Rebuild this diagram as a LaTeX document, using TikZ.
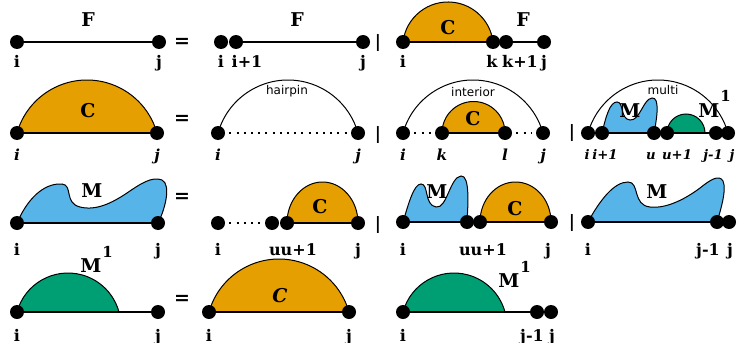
\documentclass[tikz,border=0pt]{standalone}
\usepackage{fontspec}
\setmainfont{DejaVu Serif}
\newfontfamily\tagfont{DejaVu Sans}
\usetikzlibrary{backgrounds}
\definecolor{corange}{HTML}{E69F00}
\definecolor{cblue}{HTML}{56B4E9}
\definecolor{cgreen}{HTML}{009E73}
\newcommand{\widearc}{arc[start angle=164.26, end angle=15.74, radius=36.36pt]}
\newcommand{\greenarc}{arc[start angle=164.8, end angle=15.2, radius=26.42pt]}
\newcommand{\Mone}{M\kern0.5pt\raisebox{7.5pt}{\fontsize{7.5}{8}\selectfont 1}}
\begin{document}
\begin{tikzpicture}[x=0.5pt, y=-0.5pt,
  dot/.style={circle, fill=black, inner sep=0pt, minimum size=7pt},
  base/.style={line width=0.7pt},
  rim/.style={line width=0.5pt},
  dots/.style={line width=1pt, dash pattern=on 1pt off 2.6pt, shorten <=2pt, shorten >=2pt},
  lbl/.style={font=\fontsize{8}{9}\selectfont\bfseries, anchor=base, inner sep=0pt},
  lbli/.style={lbl, font=\fontsize{7.6}{9}\selectfont\bfseries\itshape},
  lbls/.style={lbl, font=\fontsize{6.6}{8}\selectfont\bfseries\itshape},
  big/.style={font=\fontsize{9.5}{11}\selectfont\bfseries, anchor=base, inner sep=0pt},
  op/.style={font=\fontsize{9.5}{11}\selectfont\bfseries, inner sep=0pt},
  bar/.style={font=\fontsize{8.5}{9}\selectfont\bfseries, inner sep=0pt},
  tag/.style={font=\tagfont\fontsize{6}{7}\selectfont, anchor=base, inner sep=0pt}]
  \useasboundingbox (0,0) rectangle (737,342);

  \node[dot] (a1) at (17,42) {};
  \node[dot] (a2) at (159,42) {};
  \draw[base] (a1) -- (a2);
  \node[big] (aF) at (88,27) {F};
  \node[lbl] (a1l) at (17,68) {i};
  \node[lbl] (a2l) at (159,68) {j};

  \node[op] (eq1) at (182,43) {=};

  \node[dot] (b1) at (221,42) {};
  \node[dot] (b2) at (236,42) {};
  \node[dot] (b3) at (363,42) {};
  \draw[base] (b2) -- (b3);
  \node[big] (bF) at (297,27) {F};
  \node[lbl] (b1l) at (221,68) {i};
  \node[lbl] (b2l) at (247,68) {i+1};
  \node[lbl] (b3l) at (363,68) {j};

  \node[bar] (or1) at (378,43) {|};

  \node[dot] (c1) at (403,42) {};
  \node[dot] (c2) at (493,42) {};
  \node[dot] (c3) at (506,42) {};
  \node[dot] (c4) at (544,42) {};
  \begin{scope}[on background layer]
    \filldraw[rim, fill=corange] (c1.center) arc[start angle=173.27, end angle=6.73, radius=22.66pt] -- cycle;
  \end{scope}
  \draw[base] (c1) -- (c4);
  \node[big] (cC) at (448,35) {C};
  \node[big] (cF) at (523,27) {F};
  \node[lbl] (c1l) at (403,68) {i};
  \node[lbl] (c2l) at (492,68) {k};
  \node[lbl] (c3l) at (520,68) {k+1};
  \node[lbl] (c4l) at (544,68) {j};


  \node[dot] (d1) at (17,133) {};
  \node[dot] (d2) at (157,133) {};
  \begin{scope}[on background layer]
    \filldraw[rim, fill=corange] (d1.center) \widearc -- cycle;
  \end{scope}
  \draw[base] (d1) -- (d2);
  \node[big] (dC) at (88,117) {C};
  \node[lbli] (d1l) at (17,160) {i};
  \node[lbli] (d2l) at (157,160) {j};

  \node[op] (eq2) at (182,120) {=};

  \node[dot] (e1) at (218,133) {};
  \node[dot] (e2) at (358,133) {};
  \begin{scope}[on background layer]
    \draw[rim] (e1.center) \widearc;
  \end{scope}
  \draw[dots] (e1) -- (e2);
  \node[tag] (eT) at (287,94) {hairpin};
  \node[lbli] (e1l) at (218,160) {i};
  \node[lbli] (e2l) at (358,160) {j};

  \node[bar] (or2) at (378,135) {|};

  \node[dot] (f1) at (403,133) {};
  \node[dot] (f2) at (442,133) {};
  \node[dot] (f3) at (505,133) {};
  \node[dot] (f4) at (543,133) {};
  \begin{scope}[on background layer]
    \draw[rim] (f1.center) \widearc;
    \filldraw[rim, fill=corange] (f2.center) arc[start angle=180, end angle=0, radius=15.75pt] -- cycle;
  \end{scope}
  \draw[base] (f2) -- (f3);
  \draw[dots] (f1) -- (f2);
  \draw[dots] (f3) -- (f4);
  \node[tag] (fT) at (473,97) {interior};
  \node[big] (fC) at (473,125) {C};
  \node[lbli] (f1l) at (403,160) {i};
  \node[lbli] (f2l) at (442,160) {k};
  \node[lbli] (f3l) at (505,160) {l};
  \node[lbli] (f4l) at (543,160) {j};

  \node[bar] (or3) at (572,133) {|};

  \node[dot] (g1) at (588,133) {};
  \node[dot] (g2) at (602,133) {};
  \node[dot] (g3) at (654,133) {};
  \node[dot] (g4) at (667,133) {};
  \node[dot] (g5) at (716,133) {};
  \node[dot] (g6) at (728,133) {};
  \begin{scope}[on background layer]
    \draw[rim] (g1.center) \widearc;
    \filldraw[rim, fill=cblue] (g2.center) .. controls (606,116) and (610,102) .. (617,102)
      .. controls (624,102) and (620,119) .. (630,120) .. controls (640,121) and (643,99) .. (652,98)
      .. controls (660,97) and (657,118) .. (g3.center) -- cycle;
    \filldraw[rim, fill=cgreen] (g4.center) arc[start angle=180, end angle=0, radius=9.5pt] -- cycle;
  \end{scope}
  \draw[base] (g1) -- (g6);
  \node[tag] (gT) at (663,95) {multi};
  \node[big] (gM) at (630,117) {M};
  \node[big, anchor=base west] (gM1) at (698,117) {\Mone};
  \node[lbls] (g1l) at (587,159) {i};
  \node[lbls] (g2l) at (605,159) {i+1};
  \node[lbls] (g3l) at (651,159) {u};
  \node[lbls] (g4l) at (677,159) {u+1};
  \node[lbls] (g5l) at (713,159) {j-1};
  \node[lbls] (g6l) at (732,159) {j};


  \node[dot] (h1) at (17,223) {};
  \node[dot] (h2) at (158,223) {};
  \begin{scope}[on background layer]
    \filldraw[rim, fill=cblue] (h1.center) .. controls (30,193) and (48,183) .. (62,184)
      .. controls (73,185) and (64,203) .. (80,207) .. controls (96,211) and (112,203) .. (127,193)
      .. controls (140,184) and (152,176) .. (162,180) .. controls (172,185) and (164,212) .. (h2.center) -- cycle;
  \end{scope}
  \draw[base] (h1) -- (h2);
  \node[big] (hM) at (92,197) {M};
  \node[lbl] (h1l) at (17,255) {i};
  \node[lbl] (h2l) at (158,255) {j};

  \node[op] (eq3) at (182,198) {=};

  \node[dot] (k1) at (218,223) {};
  \node[dot] (k2) at (272,223) {};
  \node[dot] (k3) at (287,223) {};
  \node[dot] (k4) at (358,223) {};
  \begin{scope}[on background layer]
    \filldraw[rim, fill=corange] (k3.center) arc[start angle=180, end angle=0, x radius=17.75pt, y radius=20.5pt] -- cycle;
  \end{scope}
  \draw[dots] (k1) -- (k2);
  \draw[base] (k3) -- (k4);
  \node[big] (kC) at (320,213) {C};
  \node[lbl] (k1l) at (218,255) {i};
  \node[lbl] (k2l) at (293,255) {uu+1};
  \node[lbl] (k4l) at (358,255) {j};

  \node[bar] (or4) at (378,225) {|};

  \node[dot] (m1) at (403,222) {};
  \node[dot] (m2) at (467,222) {};
  \node[dot] (m3) at (480,222) {};
  \node[dot] (m4) at (551,222) {};
  \begin{scope}[on background layer]
    \filldraw[rim, fill=cblue] (m1.center) .. controls (409,202) and (414,184) .. (421,184)
      .. controls (429,184) and (424,205) .. (436,207) .. controls (447,209) and (450,177) .. (461,176)
      .. controls (470,175) and (468,205) .. (m2.center) -- cycle;
    \filldraw[rim, fill=corange] (m3.center) arc[start angle=180, end angle=0, x radius=17.75pt, y radius=20pt] -- cycle;
  \end{scope}
  \draw[base] (m1) -- (m4);
  \node[big] (mM) at (437,198) {M};
  \node[big] (mC) at (515,215) {C};
  \node[lbl] (m1l) at (403,255) {i};
  \node[lbl] (m2l) at (483,255) {uu+1};
  \node[lbl] (m4l) at (548,255) {j};

  \node[bar] (or5) at (572,223) {|};

  \node[dot] (n1) at (588,222) {};
  \node[dot] (n2) at (717,222) {};
  \node[dot] (n3) at (729,222) {};
  \begin{scope}[on background layer]
    \filldraw[rim, fill=cblue] (n1.center) .. controls (600,200) and (614,182) .. (628,182)
      .. controls (640,182) and (632,205) .. (650,207) .. controls (668,209) and (688,197) .. (700,188)
      .. controls (710,180) and (719,174) .. (723,181) .. controls (727,190) and (720,212) .. (n2.center) -- cycle;
  \end{scope}
  \draw[base] (n1) -- (n3);
  \node[big] (nM) at (657,198) {M};
  \node[lbl] (n1l) at (588,255) {i};
  \node[lbl] (n2l) at (708,255) {j-1};
  \node[lbl] (n3l) at (730,255) {j};


  \node[dot] (p1) at (17,312) {};
  \node[dot] (p2) at (158,312) {};
  \begin{scope}[on background layer]
    \filldraw[rim, fill=cgreen] (p1.center) \greenarc -- cycle;
  \end{scope}
  \draw[base] (p1) -- (p2);
  \node[big, anchor=base west] (pM1) at (80,272) {\Mone};
  \node[lbl] (p1l) at (17,341) {i};
  \node[lbl] (p2l) at (158,341) {j};

  \node[op] (eq4) at (182,300) {=};

  \node[dot] (q1) at (209,312) {};
  \node[dot] (q2) at (349,312) {};
  \begin{scope}[on background layer]
    \filldraw[rim, fill=corange] (q1.center) \widearc -- cycle;
  \end{scope}
  \draw[base] (q1) -- (q2);
  \node[big, font=\fontsize{9.5}{11}\selectfont\bfseries\itshape] (qC) at (280,302) {C};
  \node[lbl] (q1l) at (209,341) {i};
  \node[lbl] (q2l) at (349,341) {j};

  \node[dot] (r1) at (403,312) {};
  \node[dot] (r2) at (537,312) {};
  \node[dot] (r3) at (551,312) {};
  \begin{scope}[on background layer]
    \filldraw[rim, fill=cgreen] (r1.center) \greenarc -- cycle;
  \end{scope}
  \draw[base] (r1) -- (r3);
  \node[big, anchor=base west] (rM1) at (498,287) {\Mone};
  \node[lbl] (r1l) at (403,341) {i};
  \node[lbl] (r2l) at (532,341) {j-1};
  \node[lbl] (r3l) at (552,341) {j};
\end{tikzpicture}
\end{document}
